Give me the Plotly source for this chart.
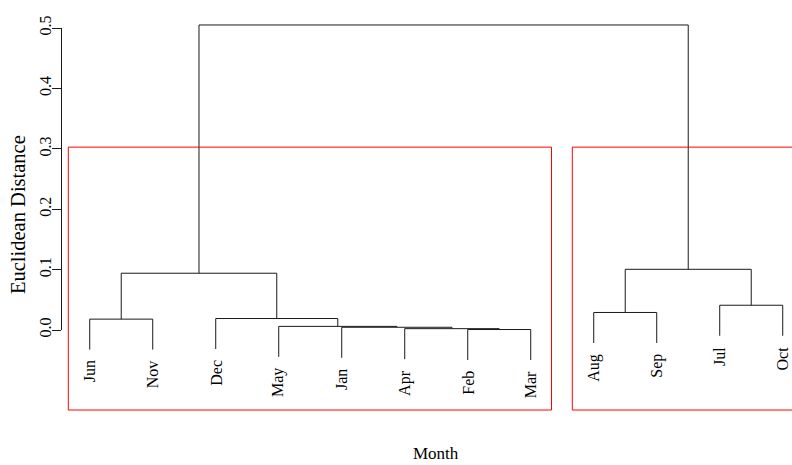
import plotly.graph_objects as go

# ---- data ----
leaf_labels = ["Jun", "Nov", "Dec", "May", "Jan", "Apr", "Feb", "Mar", "Aug", "Sep", "Jul", "Oct"]
# R-style merge matrix: negative = leaf (1-based position in leaf_labels), positive = earlier merge row
merge_a = [-7, -6, -5, -4, -1, -3, -9, -11, 5, 7, 9]
merge_b = [-8, 1, 2, 3, -2, 4, -10, -12, 6, 8, 10]
merge_h = [0.0008, 0.0022, 0.0045, 0.006, 0.018, 0.019, 0.029, 0.041, 0.094, 0.1005, 0.505]
hang_frac = 0.1
n_clusters = 2
tick_vals = [0.0, 0.1, 0.2, 0.3, 0.4, 0.5]
tick_text = ["0.0", "0.1", "0.2", "0.3", "0.4", "0.5"]
rect_bottom = -0.1325
y_title = "Euclidean Distance"
x_title = "Month"

FONT = "Liberation Serif"
LINE = "#1a1a1a"

hang = hang_frac * max(merge_h)

node_x = {}
node_h = {}


def pos(ref):
    if ref < 0:
        return float(-ref)
    return node_x[ref]


for i, (a, b, h) in enumerate(zip(merge_a, merge_b, merge_h), start=1):
    node_x[i] = (pos(a) + pos(b)) / 2.0
    node_h[i] = h

xs, ys = [], []
leaf_end = {}
for i, (a, b, h) in enumerate(zip(merge_a, merge_b, merge_h), start=1):
    xa, xb = pos(a), pos(b)
    xs += [xa, xb, None]
    ys += [h, h, None]
    for ref, xc in ((a, xa), (b, xb)):
        if ref < 0:
            yc = h - hang
            leaf_end[-ref] = yc
        else:
            yc = node_h[ref]
        xs += [xc, xc, None]
        ys += [h, yc, None]

fig = go.Figure()
fig.add_trace(go.Scatter(x=xs, y=ys, mode="lines", line=dict(color=LINE, width=1),
                         xaxis="x", yaxis="y2", showlegend=False, hoverinfo="skip"))

# cluster rectangles (rect.hclust, k=2)
hs = sorted(merge_h)
cut_h = (hs[-n_clusters] + hs[-n_clusters + 1]) / 2.0


def members(ref):
    if ref < 0:
        return [-ref]
    return members(merge_a[ref - 1]) + members(merge_b[ref - 1])


top = len(merge_h)
clusters = [members(merge_a[top - 1]), members(merge_b[top - 1])]
for cl in clusters:
    x0 = min(cl) - 0.34
    x1 = max(cl) + 0.33
    fig.add_trace(go.Scatter(x=[x0, x1, x1, x0, x0], y=[rect_bottom, rect_bottom, cut_h, cut_h, rect_bottom],
                             mode="lines", line=dict(color="#ff0000", width=1),
                             xaxis="x", yaxis="y2", showlegend=False, hoverinfo="skip"))

# dummy trace so the tick axis renders
fig.add_trace(go.Scatter(x=[None], y=[None], xaxis="x", yaxis="y", showlegend=False, hoverinfo="skip"))

# geometry
W, H = 792, 465
ml, mt, mb = 62, 20, 53
plot_h = H - mt - mb
px_per_unit_y = 604.0
px_per_unit_x = 63.0
y0_px = 330  # pixel row of distance 0
x_lo = 0.56
x_hi = x_lo + (W - ml) / px_per_unit_x
y_lo = -((H - mb) - y0_px) / px_per_unit_y
y_hi = y_lo + plot_h / px_per_unit_y
d0 = ((H - mb) - y0_px) / plot_h
d1 = ((H - mb) - (y0_px - tick_vals[-1] * px_per_unit_y)) / plot_h

annotations = []
for i, lab in enumerate(leaf_labels, start=1):
    annotations.append(dict(x=i, y=leaf_end[i], xref="x", yref="y2", text=lab, showarrow=False,
                            textangle=-90, yanchor="top", xanchor="center", yshift=-9,
                            font=dict(family=FONT, size=16, color="black")))
annotations.append(dict(x=0, y=((H - mb) - 215) / plot_h, xref="paper", yref="paper",
                        text=y_title, showarrow=False, textangle=-90, xanchor="center", yanchor="middle",
                        xshift=18 - ml, font=dict(family=FONT, size=20.5, color="black")))
annotations.append(dict(x=(1 + len(leaf_labels)) / 2.0, y=0, xref="x", yref="paper", text=x_title,
                        showarrow=False, xanchor="center", yanchor="middle", yshift=-(453 - (H - mb)),
                        font=dict(family=FONT, size=17, color="black")))

fig.update_layout(
    width=W, height=H,
    margin=dict(l=ml, r=0, t=mt, b=mb, autoexpand=False),
    paper_bgcolor="white", plot_bgcolor="white",
    showlegend=False,
    xaxis=dict(range=[x_lo, x_hi], visible=False, anchor="y", automargin=False),
    yaxis=dict(domain=[d0, d1], range=[tick_vals[0], tick_vals[-1]], tickvals=tick_vals, ticktext=tick_text,
               tickangle=-90, showline=True, linecolor=LINE, linewidth=1, ticks="outside", ticklen=9,
               tickcolor=LINE, tickwidth=1, showgrid=False, zeroline=False, anchor="x", automargin=False,
               ticklabelstandoff=-5,
               tickfont=dict(family=FONT, size=16, color="black")),
    yaxis2=dict(domain=[0, 1], range=[y_lo, y_hi], visible=False, anchor="x", automargin=False),
    annotations=annotations,
)

fig.write_html("out.html",
               config={"displayModeBar": False},
               post_script="document.body.style.margin='0';document.body.style.overflow='hidden';"
                           "document.documentElement.style.overflow='hidden';")
